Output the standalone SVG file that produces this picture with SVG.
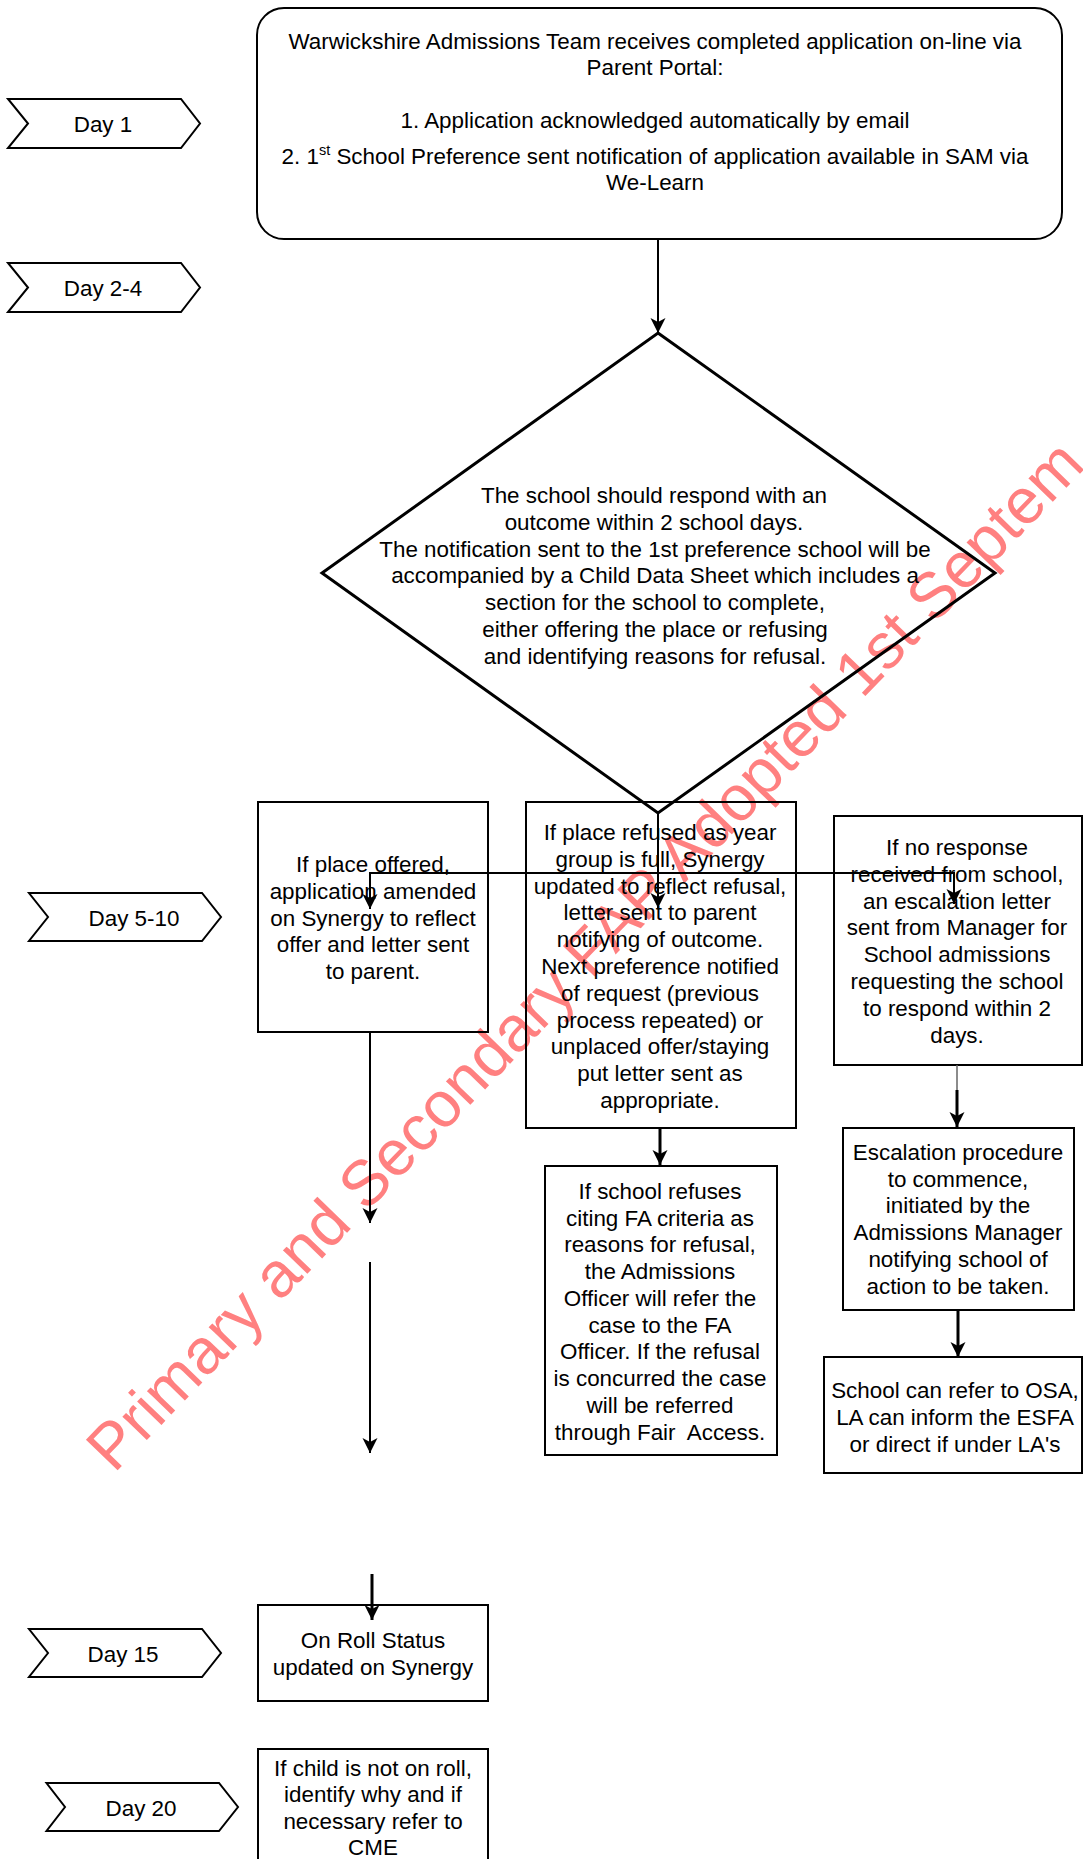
<svg xmlns="http://www.w3.org/2000/svg" width="1083" height="1859" viewBox="0 0 1083 1859">
<defs>
<marker id="ah" markerWidth="16" markerHeight="16" refX="15" refY="7.5" orient="auto" markerUnits="userSpaceOnUse">
<path d="M0,0 L15,7.5 L0,15 L4,7.5 z" fill="#000"/>
</marker>
<style>
text{font-family:"Liberation Sans",Arial,sans-serif;font-size:22.4px;fill:#000;text-anchor:middle}
.box{fill:none;stroke:#000;stroke-width:2}
.dia{fill:none;stroke:#000;stroke-width:3}
.chev{fill:#fff;stroke:#000;stroke-width:2}
.wm{font-size:64px;fill:#FF8080;text-anchor:start}
.c{fill:none;stroke:#000;stroke-width:2}
.ca{fill:none;stroke:#000;stroke-width:2;marker-end:url(#ah)}
.cb{fill:none;stroke:#000;stroke-width:3;marker-end:url(#ah)}
</style>
</defs>
<rect width="1083" height="1859" fill="#fff"/>
<text class="wm" transform="translate(114,1474) rotate(-46)">Primary and Secondary FAP Adopted 1st Septem</text>

<g id="day1"><polygon class="chev" points="8,99 181,99 200,123.5 181,148 8,148 28,123.5"/><text x="103" y="131.5">Day 1</text></g>
<g id="day2-4"><polygon class="chev" points="8,263 181,263 200,287.5 181,312 8,312 28,287.5"/><text x="103" y="296">Day 2-4</text></g>
<g id="day5-10"><polygon class="chev" points="29,893 202,893 221,917 202,941 29,941 48,917"/><text x="134" y="925.5">Day 5-10</text></g>
<g id="day15"><polygon class="chev" points="29,1629 202,1629 221,1653 202,1677 29,1677 48,1653"/><text x="123" y="1661.5">Day 15</text></g>
<g id="day20"><polygon class="chev" points="46.5,1783 219,1783 238,1807 219,1831 46.5,1831 65,1807"/><text x="141" y="1815.5">Day 20</text></g>

<g id="receive">
<rect class="box" x="257" y="8" width="805" height="231" rx="27" ry="27"/>
<text x="655" y="48.5">Warwickshire Admissions Team receives completed application on-line via</text>
<text x="655" y="75">Parent Portal:</text>
<text x="655" y="128">1. Application acknowledged automatically by email</text>
<text x="655" y="163.5">2. 1<tspan font-size="14.5" dy="-9">st</tspan><tspan dy="9"> School Preference sent notification of application available in SAM via</tspan></text>
<text x="655" y="190">We-Learn</text>
</g>

<g id="decision">
<polygon class="dia" points="658,333 995,573 658,813 322,573"/>
<text x="654" y="503">The school should respond with an</text>
<text x="654" y="530">outcome within 2 school days.</text>
<text x="655" y="557">The notification sent to the 1st preference school will be</text>
<text x="655" y="583">accompanied by a Child Data Sheet which includes a</text>
<text x="655" y="610">section for the school to complete,</text>
<text x="655" y="637">either offering the place or refusing</text>
<text x="655" y="664">and identifying reasons for refusal.</text>
</g>

<g id="offered">
<rect class="box" x="258" y="802" width="230" height="230"/>
<text x="373" y="872">If place offered,</text>
<text x="373" y="899">application amended</text>
<text x="373" y="926">on Synergy to reflect</text>
<text x="373" y="952">offer and letter sent</text>
<text x="373" y="979">to parent.</text>
</g>

<g id="refused">
<rect class="box" x="526" y="802" width="270" height="326"/>
<text x="660" y="840">If place refused as year</text>
<text x="660" y="867">group is full, Synergy</text>
<text x="660" y="894">updated to reflect refusal,</text>
<text x="660" y="920">letter sent to parent</text>
<text x="660" y="947">notifying of outcome.</text>
<text x="660" y="974">Next preference notified</text>
<text x="660" y="1001">of request (previous</text>
<text x="660" y="1028">process repeated) or</text>
<text x="660" y="1054">unplaced offer/staying</text>
<text x="660" y="1081">put letter sent as</text>
<text x="660" y="1108">appropriate.</text>
</g>

<g id="noresponse">
<rect class="box" x="834" y="816" width="248" height="249"/>
<text x="957" y="855">If no response</text>
<text x="957" y="882">received from school,</text>
<text x="957" y="909">an escalation letter</text>
<text x="957" y="935">sent from Manager for</text>
<text x="957" y="962">School admissions</text>
<text x="957" y="989">requesting the school</text>
<text x="957" y="1016">to respond within 2</text>
<text x="957" y="1043">days.</text>
</g>

<g id="fairaccess">
<rect class="box" x="545" y="1166" width="232" height="289"/>
<text x="660" y="1199">If school refuses</text>
<text x="660" y="1226">citing FA criteria as</text>
<text x="660" y="1252">reasons for refusal,</text>
<text x="660" y="1279">the Admissions</text>
<text x="660" y="1306">Officer will refer the</text>
<text x="660" y="1333">case to the FA</text>
<text x="660" y="1359">Officer. If the refusal</text>
<text x="660" y="1386">is concurred the case</text>
<text x="660" y="1413">will be referred</text>
<text x="660" y="1440" xml:space="preserve">through Fair  Access.</text>
</g>

<g id="escalation">
<rect class="box" x="843" y="1128" width="231" height="182"/>
<text x="958" y="1160">Escalation procedure</text>
<text x="958" y="1187">to commence,</text>
<text x="958" y="1213">initiated by the</text>
<text x="958" y="1240">Admissions Manager</text>
<text x="958" y="1267">notifying school of</text>
<text x="958" y="1294">action to be taken.</text>
</g>

<g id="osa">
<rect class="box" x="824" y="1357" width="258" height="116"/>
<text x="955" y="1398">School can refer to OSA,</text>
<text x="955" y="1425">LA can inform the ESFA</text>
<text x="955" y="1452">or direct if under LA's</text>
</g>

<g id="onroll">
<rect class="box" x="258" y="1605" width="230" height="96"/>
<text x="373" y="1648">On Roll Status</text>
<text x="373" y="1675">updated on Synergy</text>
</g>

<g id="notonroll">
<rect class="box" x="258" y="1749" width="230" height="130"/>
<text x="373" y="1776">If child is not on roll,</text>
<text x="373" y="1802">identify why and if</text>
<text x="373" y="1829">necessary refer to</text>
<text x="373" y="1855">CME</text>
</g>

<g id="connectors">
<line class="ca" x1="658" y1="239" x2="658" y2="333"/>
<line class="ca" x1="658" y1="813" x2="658" y2="908"/>
<line class="c" x1="369" y1="873" x2="955" y2="873"/>
<line class="ca" x1="370" y1="873" x2="370" y2="909"/>
<line class="ca" x1="954" y1="873" x2="954" y2="904"/>
<line class="ca" x1="370" y1="1032" x2="370" y2="1223"/>
<line class="ca" x1="370" y1="1262" x2="370" y2="1453"/>
<line class="cb" x1="372" y1="1574" x2="372" y2="1620"/>
<line class="cb" x1="660" y1="1128" x2="660" y2="1165"/>
<line x1="957" y1="1065" x2="957" y2="1090" stroke="#666" stroke-width="1.5"/>
<line class="cb" x1="957" y1="1090" x2="957" y2="1127"/>
<line class="cb" x1="958" y1="1310" x2="958" y2="1357"/>
</g>
</svg>
